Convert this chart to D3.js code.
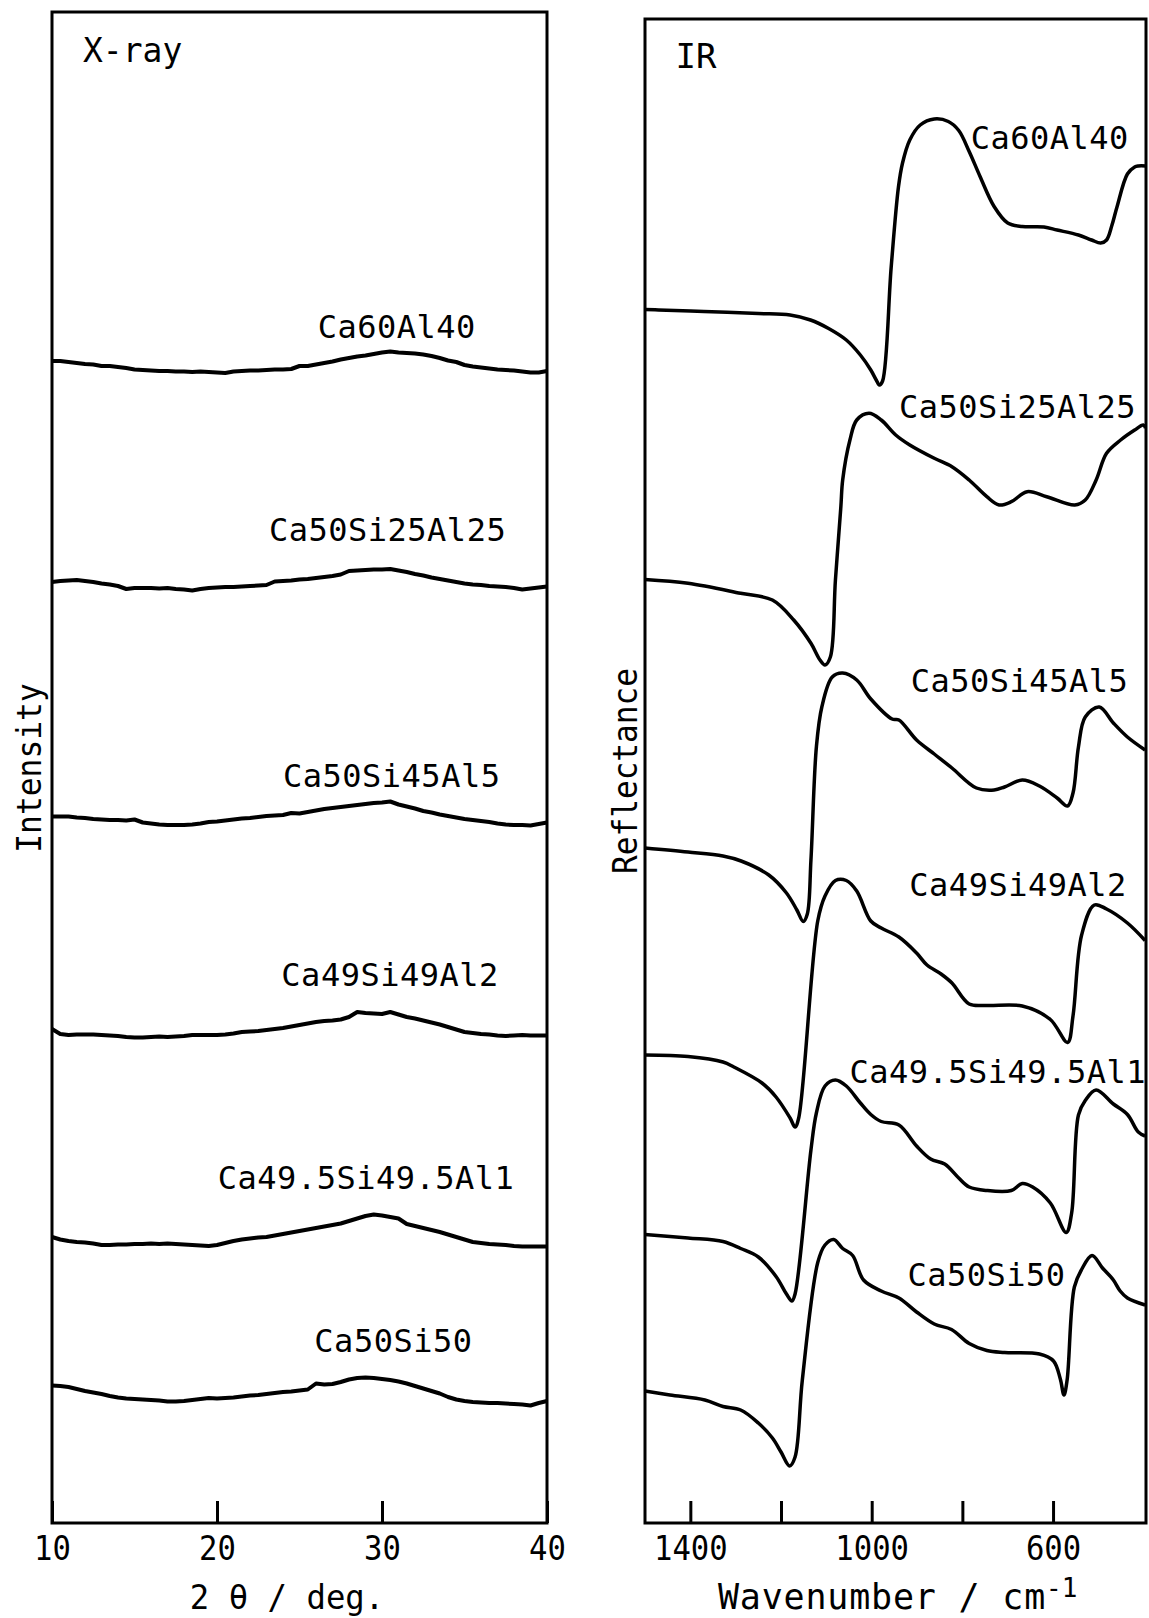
<!DOCTYPE html>
<html>
<head>
<meta charset="utf-8">
<script src="https://cdn.jsdelivr.net/npm/d3@7"></script>
<style>
  body { margin: 0; background: #fff; }
  text { font-family: "DejaVu Sans Mono", monospace; fill: #000; }
</style>
</head>
<body>
<div id="chart"></div>
<script>
// sample names, top to bottom
var names = ["Ca60Al40", "Ca50Si25Al25", "Ca50Si45Al5", "Ca49Si49Al2", "Ca49.5Si49.5Al1", "Ca50Si50"];

// X-ray: 2theta grid (deg) and stacked intensities (a.u.)
var xrayAngles = d3.range(61).map(function (i) { return 10 + i * 0.5; });

var xrayCa60Al40 = [1162, 1162, 1161, 1160, 1159, 1158.5, 1157, 1157, 1156, 1155,
    1153.5, 1153, 1152.5, 1152, 1152, 1151.5, 1151.5, 1151, 1151.5, 1151,
    1150.5, 1150, 1151.5, 1152, 1152.5, 1152.5, 1153, 1153.5, 1153.5, 1154,
    1157, 1157, 1158.5, 1160, 1161.5, 1163.5, 1165, 1166.5, 1167.5, 1169,
    1170.5, 1171.5, 1170.5, 1170, 1169.5, 1168.5, 1167, 1165, 1162.5, 1161,
    1158, 1156.5, 1155.5, 1154.5, 1153.5, 1153, 1152.5, 1151.5, 1150.5, 1150.5, 1152];
var xrayCa50Si25Al25 = [941, 942, 942.5, 943, 942, 941, 939.5, 938.5, 937, 934,
    935, 935, 935, 934.5, 935, 934, 933.5, 932.5, 934, 935,
    935.5, 936, 936, 936.5, 937, 937.5, 938, 941.5, 942, 942.5,
    943.5, 944, 945, 946, 947, 948.5, 952, 952.5, 953, 953.5,
    953.5, 954, 952.5, 951, 949, 947.5, 945.5, 944, 942.5, 941,
    939.5, 938.5, 938, 937, 936.5, 936, 935, 933.5, 934.5, 935.5, 936.5];
var xrayCa50Si45Al5 = [706.5, 706.5, 706.5, 705.5, 705, 704, 703.5, 703, 703, 702.5,
    703.5, 700.5, 699.5, 698.5, 698, 698, 698, 698.5, 699.5, 701,
    701.5, 702.5, 703.5, 704.5, 705, 706, 707, 707.5, 708, 710,
    709.5, 711, 712.5, 714, 715, 716, 717, 718, 719, 720,
    720.5, 721.5, 718.5, 716.5, 714.5, 712, 710.5, 708.5, 707, 705.5,
    704, 703, 702, 701, 699.5, 698.5, 698, 698, 697.5, 699, 700.5];
var xrayCa49Si49Al2 = [494, 489, 488, 488.5, 488.5, 488.5, 488, 487.5, 487, 486,
    485.5, 485.5, 486, 486.5, 486, 486.5, 487, 488, 488, 488,
    488, 488.5, 489.5, 491, 491.5, 492, 493, 494, 495, 496.5,
    498, 499.5, 501, 502, 502.5, 503.5, 506, 511, 510, 509.5,
    509, 511, 508.5, 506, 504.5, 502.5, 500.5, 498.5, 496, 493.5,
    491, 490, 489, 488.5, 487.5, 487, 487.5, 488, 487.5, 487.5, 487.5];
var xrayCa49_5Si49_5Al1 = [286, 283.5, 282, 281, 280.5, 279.5, 278, 278, 278.5, 278.5,
    279, 279, 279.5, 279, 279.5, 279, 278.5, 278, 277.5, 277,
    278, 280, 282, 283.5, 284.5, 285.5, 286, 287.5, 289, 290.5,
    292, 293.5, 295, 296.5, 298, 299.5, 302, 304.5, 307, 308.5,
    307.5, 306, 304.5, 299, 297, 295, 293, 291, 288.5, 286,
    283.5, 281, 280, 279, 278.5, 278, 277, 276.5, 276.5, 276.5, 276.5];
var xrayCa50Si50 = [137.5, 137, 136, 134, 132, 130.5, 129, 127, 125.5, 124.5,
    124, 123.5, 123, 122.5, 121.5, 121.5, 122, 123, 124, 125,
    124.5, 125, 125.5, 126.5, 127.5, 128, 129, 130, 131, 131.5,
    132.5, 133.5, 139.5, 138.5, 139, 141, 143.5, 145, 145.5, 145,
    144, 143, 141.5, 139.5, 137, 134.5, 132, 129.5, 126, 123.5,
    122, 121, 120.5, 120, 120, 119.5, 119, 118.5, 117.5, 120, 122];

// where each X-ray label sits (angle, intensity)
var xrayLabelAngle = [26.1, 23.15, 24.0, 23.9, 20.05, 25.9];
var xrayLabelLevel = [1185, 982, 736, 537, 334, 171];

// IR: [wavenumber cm-1, stacked reflectance a.u.]
var irCa60Al40 = [[1500, 1213.5], [1470, 1213], [1370, 1211.5], [1250, 1209.5], [1180, 1208], [1135, 1203],
    [1095, 1194.5], [1056, 1183], [1025, 1168], [1002, 1153], [990, 1143], [983, 1138], [976, 1142],
    [957, 1256], [941, 1336], [932, 1360], [916, 1383], [893, 1398], [862, 1404], [831, 1401.5],
    [808, 1392.5], [785, 1371.5], [761, 1346.5], [730, 1316.5], [700, 1300], [668, 1296.5], [620, 1296],
    [591, 1293], [544, 1288], [515, 1283], [495, 1280], [482, 1283], [470, 1298], [459, 1316],
    [436, 1349], [420, 1356], [412, 1357], [395, 1357]];
var irCa50Si25Al25 = [[1500, 943.5], [1405, 939.7], [1289, 929.7], [1219, 923], [1172, 903], [1134, 879.7],
    [1114, 863], [1103, 858], [1091, 866.3], [1080, 943], [1068, 1016.3], [1064, 1043], [1048, 1083],
    [1033, 1103], [1006, 1109.7], [979, 1103], [947, 1088], [916, 1078], [862, 1064.7], [823, 1056.3],
    [785, 1043], [746, 1026.3], [719, 1018], [692, 1021.3], [657, 1031.3], [614, 1026.3], [552, 1018],
    [529, 1023], [505, 1043], [482, 1069.7], [451, 1083], [420, 1093], [401, 1098], [396, 1095]];
var irCa50Si45Al5 = [[1500, 675], [1405, 671], [1328, 667], [1288, 662], [1227, 648], [1188, 630],
    [1165, 613], [1151, 601.5], [1142, 609], [1134, 663], [1122, 776], [1110, 816], [1087, 846],
    [1064, 850], [1033, 843], [1002, 824], [955, 804], [940, 803], [901, 783], [862, 769],
    [823, 755], [769, 735], [730, 733], [707, 736], [668, 743], [630, 737], [591, 725], [568, 717],
    [556, 730], [544, 776], [529, 806], [498, 816], [467, 800], [436, 786], [397, 773]];
var irCa49Si49Al2 = [[1500, 468], [1405, 466.5], [1328, 461], [1304, 456], [1242, 440], [1211, 426],
    [1180, 405], [1169, 396], [1161, 405], [1119, 602], [1103, 627], [1080, 642.5], [1056, 642.5],
    [1033, 632], [1002, 602], [979, 595], [940, 586], [901, 570], [878, 558], [847, 549], [823, 540],
    [785, 519], [746, 517.5], [668, 517], [606, 503.5], [568, 480.5], [556, 507], [537, 588],
    [509, 618], [482, 614], [436, 600], [397, 582.5]];
var irCa49_5Si49_5Al1 = [[1500, 288.5], [1405, 285], [1328, 281.5], [1289, 274.5], [1250, 266], [1211, 246.5],
    [1188, 229], [1176, 222], [1169, 229], [1134, 373], [1122, 410], [1103, 437], [1080, 443],
    [1056, 437], [1025, 420], [1002, 408.5], [979, 401.5], [940, 398], [901, 377], [870, 364],
    [839, 359], [808, 345], [785, 336], [746, 332.5], [692, 332.5], [668, 339.5], [645, 336],
    [606, 320], [571, 290.5], [559, 310], [544, 408], [529, 422.5], [505, 433], [467, 419],
    [436, 408.5], [412, 391], [397, 387]];
var irCa50Si50 = [[1500, 132], [1445, 128], [1368, 123], [1328, 116.5], [1289, 113], [1250, 100],
    [1219, 85], [1200, 71], [1181, 57], [1169, 66], [1153, 143], [1119, 260.5], [1103, 278],
    [1084, 283.5], [1064, 274.5], [1042, 267.5], [1018, 243], [979, 232], [940, 225], [901, 211],
    [862, 199], [824, 193.5], [785, 179.5], [746, 172.5], [707, 170.5], [630, 169], [599, 162],
    [584, 144], [576, 128], [569, 143], [553, 236], [537, 253.5], [514, 267.5], [491, 255],
    [467, 243], [452, 232], [436, 225], [397, 218]];

// where each IR label sits (wavenumber, reflectance)
var irLabelWave = [781.6, 940, 913.8, 917, 1049, 921];
var irLabelLevel = [1374, 1105, 831, 627, 440, 237];

var xrayTicks = [10, 20, 30, 40];
var irTicks = [1400, 1200, 1000, 800, 600];
var irTickLabels = [1400, 1000, 600];

var xraySeries = [xrayCa60Al40, xrayCa50Si25Al25, xrayCa50Si45Al5, xrayCa49Si49Al2, xrayCa49_5Si49_5Al1, xrayCa50Si50];
var irSeries = [irCa60Al40, irCa50Si25Al25, irCa50Si45Al5, irCa49Si49Al2, irCa49_5Si49_5Al1, irCa50Si50];

var W = 1149, H = 1618;

var svg = d3.select("#chart").append("svg")
    .attr("width", W)
    .attr("height", H)
    .style("display", "block");

// scales
var xX = d3.scaleLinear().domain([10, 40]).range([52, 547]);
var yX = d3.scaleLinear().domain([0, 1511]).range([1523, 12]);
var xI = d3.scaleLinear().domain([1500, 395]).range([645, 1146]);
var yI = d3.scaleLinear().domain([0, 1504]).range([1523, 19]);

// squeezed text helper (the scan's lettering is narrower than DejaVu)
function txt(x, y, str, size, sx, anchor, rot, spacing) {
    return svg.append("text")
        .attr("transform", "translate(" + x + "," + y + ")" + (rot ? " rotate(" + rot + ")" : "") + " scale(" + sx + ",1)")
        .attr("text-anchor", anchor)
        .style("font-size", size + "px")
        .style("letter-spacing", (spacing || 0) + "px")
        .text(str);
}

function frame(x, y) {
    svg.append("rect")
        .attr("x", x.range()[0])
        .attr("y", y.range()[1])
        .attr("width", x.range()[1] - x.range()[0])
        .attr("height", y.range()[0] - y.range()[1])
        .attr("fill", "none")
        .attr("stroke", "#000")
        .attr("stroke-width", 3);
}

function bottomAxis(x, y, values, labelled) {
    var g = svg.append("g")
        .attr("transform", "translate(0," + y.range()[0] + ")")
        .call(d3.axisBottom(x)
            .tickValues(values)
            .tickSizeInner(-22)
            .tickSizeOuter(0)
            .tickPadding(13)
            .tickFormat(function (d) { return labelled.indexOf(d) >= 0 ? d : ""; }));
    g.select(".domain").remove();
    g.selectAll(".tick line").attr("stroke", "#000").attr("stroke-width", 3);
    g.selectAll(".tick text")
        .attr("fill", "#000")
        .style("font-size", "34px")
        .attr("transform", "scale(0.9,1)");
}

// ---- X-ray panel
frame(xX, yX);
bottomAxis(xX, yX, xrayTicks, xrayTicks);

var xrayLine = d3.line()
    .x(function (d, i) { return xX(xrayAngles[i]); })
    .y(function (d) { return yX(d); });

svg.append("g").selectAll("path")
    .data(xraySeries)
    .enter()
    .append("path")
    .attr("d", xrayLine)
    .attr("fill", "none")
    .attr("stroke", "#000")
    .attr("stroke-width", 4)
    .attr("stroke-linejoin", "round");

for (var i = 0; i < names.length; i++) {
    txt(xX(xrayLabelAngle[i]), yX(xrayLabelLevel[i]), names[i], 32, 1, "start", 0, 0.5);
}

txt(83, 62, "X-ray", 34, 0.97, "start");
txt(40.5, 768, "Intensity", 34, 0.92, "middle", -90);
txt(287, 1609, "2 θ / deg.", 34, 0.95, "middle");

// ---- IR panel
frame(xI, yI);
bottomAxis(xI, yI, irTicks, irTickLabels);

var irLine = d3.line()
    .x(function (d) { return xI(d[0]); })
    .y(function (d) { return yI(d[1]); })
    .curve(d3.curveCatmullRom.alpha(0.5));

svg.append("g").selectAll("path")
    .data(irSeries)
    .enter()
    .append("path")
    .attr("d", irLine)
    .attr("fill", "none")
    .attr("stroke", "#000")
    .attr("stroke-width", 3.5)
    .attr("stroke-linejoin", "round");

for (var j = 0; j < names.length; j++) {
    txt(xI(irLabelWave[j]), yI(irLabelLevel[j]), names[j], 32, 1, "start", 0, 0.5);
}

txt(675.5, 68, "IR", 34, 1, "start");
txt(637, 771, "Reflectance", 34, 0.915, "middle", -90);
txt(718, 1609, "Wavenumber / cm", 35, 1, "start", 0, 0.8);
txt(1046, 1597, "-1", 26, 1, "start");
</script>
</body>
</html>
